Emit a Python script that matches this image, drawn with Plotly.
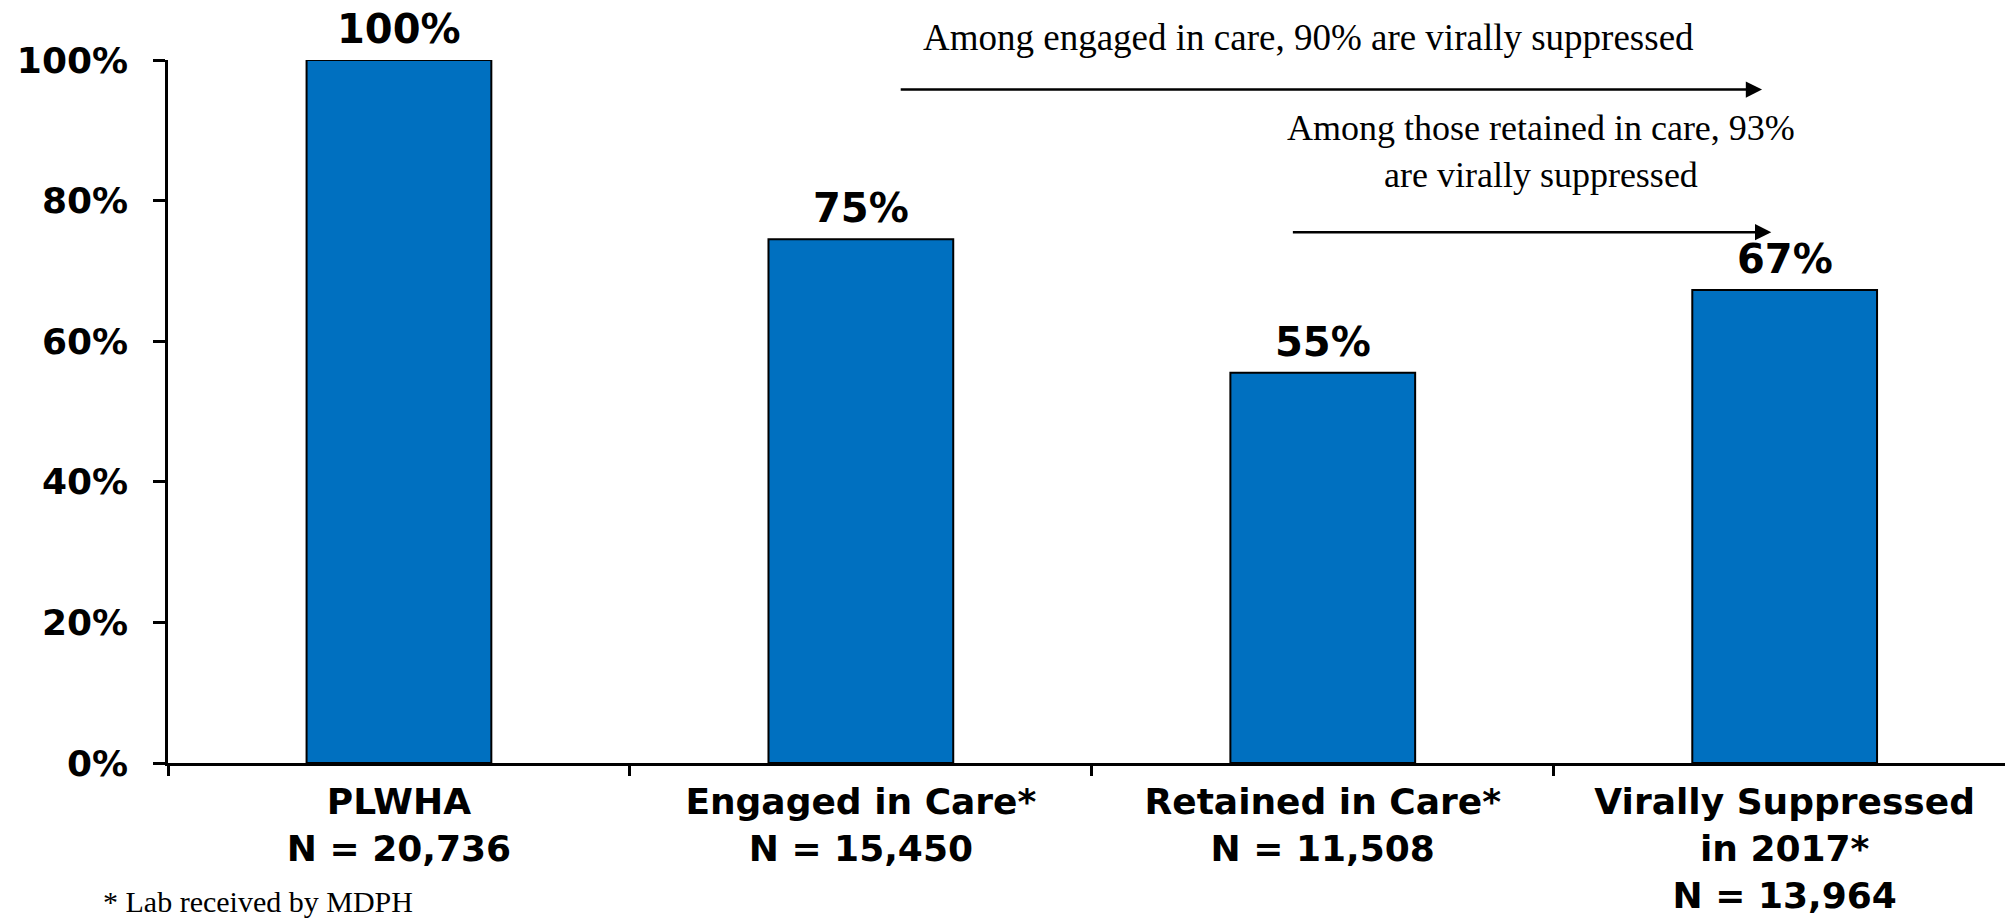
import plotly.graph_objects as go

# ---- data ----
categories = ["PLWHA", "Engaged in Care*", "Retained in Care*", "Virally Suppressed<br>in 2017*"]
counts = ["20,736", "15,450", "11,508", "13,964"]
pct_values = [100, 74.5, 55.5, 67.3]
pct_labels = ["100%", "75%", "55%", "67%"]
y_ticks = [0, 20, 40, 60, 80, 100]
y_tick_labels = ["0%", "20%", "40%", "60%", "80%", "100%"]

tick_text = [f"{c}<br>N = {n}" for c, n in zip(categories, counts)]

BAR_COLOR = "#0070C0"
SANS = "DejaVu Sans"
SERIF = "Liberation Serif"
X_RANGE = [-0.5, 3.477]

fig = go.Figure()
fig.add_trace(go.Bar(
    x=list(range(len(categories))),
    y=pct_values,
    width=0.4,
    marker=dict(color=BAR_COLOR, line=dict(color="black", width=2)),
    cliponaxis=False,
    hoverinfo="skip",
))

annotations = []
for i, (v, lab) in enumerate(zip(pct_values, pct_labels)):
    annotations.append(dict(
        x=i, y=v, xref="x", yref="y", text=lab, showarrow=False,
        yanchor="bottom", yshift=6,
        font=dict(family=SANS, size=40, color="black", weight="bold"),
    ))

# arrows
annotations.append(dict(x=2.951, y=95.8, ax=1.083, ay=95.8, xref="x", yref="y",
                        axref="x", ayref="y", text="", showarrow=True,
                        arrowhead=2, arrowsize=1.3, arrowwidth=2.5, arrowcolor="black"))
annotations.append(dict(x=2.971, y=75.5, ax=1.932, ay=75.5, xref="x", yref="y",
                        axref="x", ayref="y", text="", showarrow=True,
                        arrowhead=2, arrowsize=1.3, arrowwidth=2.5, arrowcolor="black"))
# arrow texts
annotations.append(dict(x=0.6206, y=1.0318, xref="paper", yref="paper", showarrow=False,
                        xanchor="center", yanchor="middle",
                        text="Among engaged in care, 90% are virally suppressed",
                        font=dict(family=SERIF, size=37, color="black")))
annotations.append(dict(x=2.473, y=87.0, xref="x", yref="y", showarrow=False,
                        xanchor="center", yanchor="middle",
                        text="Among those retained in care, 93%<br>are virally suppressed",
                        align="center",
                        font=dict(family=SERIF, size=36, color="black")))
# footnote
annotations.append(dict(x=-0.0367, y=-0.2233, xref="paper", yref="paper", showarrow=False,
                        xanchor="left", yanchor="bottom",
                        text="* Lab received by MDPH",
                        font=dict(family=SERIF, size=30, color="black")))

fig.update_layout(
    width=2005, height=920,
    margin=dict(l=168, r=0, t=60, b=157, pad=0, autoexpand=False),
    paper_bgcolor="white", plot_bgcolor="white",
    showlegend=False,
    annotations=annotations,
    xaxis=dict(
        range=X_RANGE, automargin=False,
        tickmode="array",
        tickvals=list(range(len(categories))),
        ticktext=tick_text,
        showline=True, linecolor="black", linewidth=2.5,
        ticks="", showgrid=False, zeroline=False,
        ticklabelstandoff=5,
        tickfont=dict(family=SANS, size=36, color="black", weight="bold"),
    ),
    yaxis=dict(
        range=[0, 100], automargin=False,
        tickmode="array", tickvals=y_ticks, ticktext=y_tick_labels,
        showline=True, linecolor="black", linewidth=2.5,
        ticks="outside", ticklen=12, tickwidth=2.5, tickcolor="black",
        showgrid=False, zeroline=False,
        ticklabelstandoff=18,
        tickfont=dict(family=SANS, size=36, color="black", weight="bold"),
    ),
    # category boundary tick marks on the x axis
    xaxis2=dict(overlaying="x", range=X_RANGE, automargin=False,
                tickmode="array", tickvals=[-0.5, 0.5, 1.5, 2.5, 3.5],
                showticklabels=False, ticks="outside", ticklen=12,
                tickwidth=2.5, tickcolor="black", side="bottom",
                showline=False, showgrid=False, zeroline=False),
)
fig.add_trace(go.Scatter(x=[None], y=[None], xaxis="x2", showlegend=False, hoverinfo="skip"))

fig.write_html("out.html")
